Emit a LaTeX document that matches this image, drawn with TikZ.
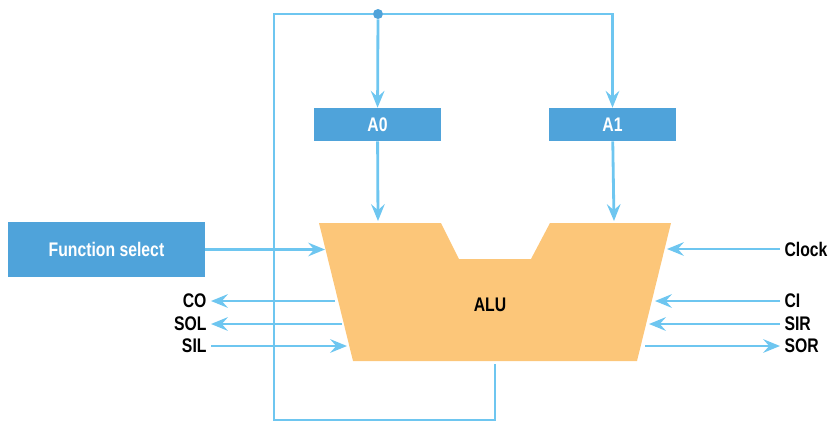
\documentclass[tikz,border=0pt]{standalone}
\usepackage{fontspec}
\setmainfont{Liberation Sans}[FakeStretch=0.8]
\usetikzlibrary{arrows, arrows.meta}
\definecolor{wirecol}{RGB}{110,198,240}
\definecolor{regcol}{RGB}{79,163,218}
\definecolor{alucol}{RGB}{252,198,121}

\begin{document}
\begin{tikzpicture}[x=0.025cm, y=-0.025cm,
    wire/.style={draw=wirecol, line width=2pt},
    sig/.style={wire, -{Stealth[length=0.42cm, width=0.34cm, inset=0.15cm]}},
    regbox/.style={fill=regcol, text=white, font=\fontsize{14}{16}\selectfont\bfseries, inner sep=0pt},
    sigtext/.style={font=\fontsize{14}{16}\selectfont\bfseries, inner sep=3pt}]
      \useasboundingbox (0,0) rectangle (831,423);

      \fill[alucol] (319,223) -- (441,223) -- (459,259) -- (531,259) -- (550,223)
        -- (671,223) -- (637,361) -- (353,361) -- cycle;
      \node[sigtext] (alu) at (490,305) {ALU};

      \node[regbox, minimum width=3.175cm, minimum height=0.825cm] (a0) at (377.5,124.5) {A0};
      \node[regbox, minimum width=3.175cm, minimum height=0.825cm] (a1) at (612.5,124.5) {A1};
      \node[regbox, minimum width=4.925cm, minimum height=1.35cm] (fsel) at (106.5,249.5) {Function select};
      \node[circle, fill=regcol, inner sep=0pt, minimum size=0.25cm] (split) at (378,14) {};

      \node[sigtext, anchor=east] (co) at (211,301) {CO};
      \node[sigtext, anchor=east] (sol) at (211,324) {SOL};
      \node[sigtext, anchor=east] (sil) at (211,346) {SIL};
      \node[sigtext, anchor=west] (clk) at (780,249) {Clock};
      \node[sigtext, anchor=west] (ci) at (780,301) {CI};
      \node[sigtext, anchor=west] (sir) at (780,324) {SIR};
      \node[sigtext, anchor=west] (sor) at (780,346) {SOR};

      \coordinate (a0in) at (378,221);
      \coordinate (a1in) at (614,221);
      \coordinate (fselin) at (325,249.5);
      \coordinate (coout) at (335,301);
      \coordinate (solout) at (342,324);
      \coordinate (silin) at (347,346);
      \coordinate (clkin) at (667,249);
      \coordinate (ciin) at (655,301);
      \coordinate (sirin) at (649,324);
      \coordinate (sorout) at (645,346);
      \coordinate (aluout) at (495,364);

      \draw[sig] (split) -- (a0);
      \draw[sig] (split) -| (a1);
      \draw[wire] (aluout) |- (274,420) |- (split);
      \draw[sig] (a0) -- (a0in);
      \draw[sig] (a1) -- (a1in);
      \draw[sig] (fsel) -- (fselin);

      \draw[sig] (coout) -- (co);
      \draw[sig] (solout) -- (sol);
      \draw[sig] (sil) -- (silin);
      \draw[sig] (clk) -- (clkin);
      \draw[sig] (ci) -- (ciin);
      \draw[sig] (sir) -- (sirin);
      \draw[sig] (sorout) -- (sor);
    \end{tikzpicture}
\end{document}
